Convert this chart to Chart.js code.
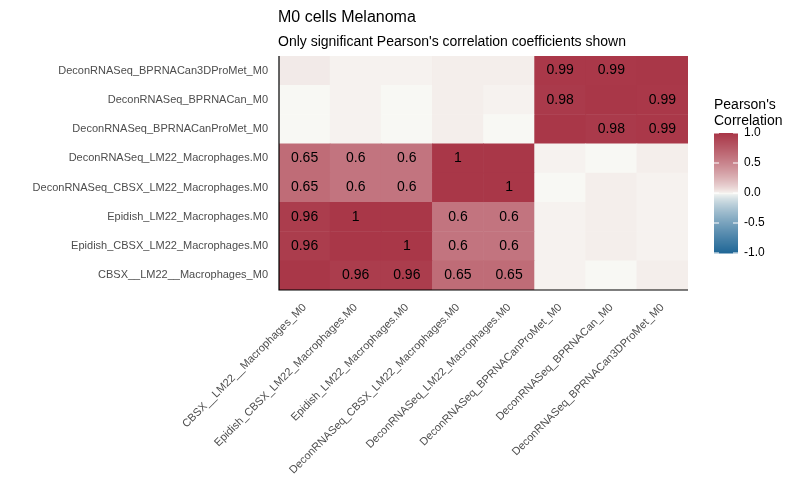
<!DOCTYPE html>
<html>
<head>
<meta charset="utf-8">
<script src="https://cdn.jsdelivr.net/npm/chart.js@4"></script>
<style>
  body { margin: 0; background: #fff; }
  #wrap { width: 800px; height: 500px; }
</style>
</head>
<body>
<div id="wrap"><canvas id="heat"></canvas></div>
<script>
// Categorías (mismo orden en x de izquierda a derecha y en y de abajo a arriba)
const categorias = [
  'CBSX__LM22__Macrophages_M0',
  'Epidish_CBSX_LM22_Macrophages.M0',
  'Epidish_LM22_Macrophages.M0',
  'DeconRNASeq_CBSX_LM22_Macrophages.M0',
  'DeconRNASeq_LM22_Macrophages.M0',
  'DeconRNASeq_BPRNACanProMet_M0',
  'DeconRNASeq_BPRNACan_M0',
  'DeconRNASeq_BPRNACan3DProMet_M0'
];

// Valores por fila (fila i = categoría y i, de abajo a arriba)
const valores = [
  [1.00, 0.96, 0.96, 0.65, 0.65, 0.01, 0.00, 0.02],
  [0.96, 1.00, 1.00, 0.60, 0.60, 0.01, 0.02, 0.01],
  [0.96, 1.00, 1.00, 0.60, 0.60, 0.01, 0.02, 0.01],
  [0.65, 0.60, 0.60, 1.00, 1.00, 0.00, 0.02, 0.01],
  [0.65, 0.60, 0.60, 1.00, 1.00, 0.01, 0.00, 0.02],
  [0.00, 0.01, 0.00, 0.02, 0.00, 1.00, 0.98, 0.99],
  [0.00, 0.01, 0.00, 0.02, 0.01, 0.98, 1.00, 0.99],
  [0.03, 0.01, 0.01, 0.02, 0.02, 0.99, 0.99, 1.00]
];

// Etiquetas mostradas (solo coeficientes significativos)
const etiquetas = [
  ['', '0.96', '0.96', '0.65', '0.65', '', '', ''],
  ['0.96', '', '1', '0.6', '0.6', '', '', ''],
  ['0.96', '1', '', '0.6', '0.6', '', '', ''],
  ['0.65', '0.6', '0.6', '', '1', '', '', ''],
  ['0.65', '0.6', '0.6', '1', '', '', '', ''],
  ['', '', '', '', '', '', '0.98', '0.99'],
  ['', '', '', '', '', '0.98', '', '0.99'],
  ['', '', '', '', '', '0.99', '0.99', '']
];

const ticksLeyenda = [1.0, 0.5, 0.0, -0.5, -1.0];

const ROJO = [169, 55, 72], BLANCO = [248, 248, 244], AZUL = [31, 102, 150];
function colorDe(v) {
  const t = Math.min(1, Math.abs(v));
  const fin = v >= 0 ? ROJO : AZUL;
  const c = BLANCO.map((b, i) => Math.round(b + (fin[i] - b) * Math.pow(t, 0.75)));
  return `rgb(${c[0]},${c[1]},${c[2]})`;
}

const datasets = valores.map((fila, r) => ({
  data: fila.map(() => [r, r + 1]),
  backgroundColor: fila.map(colorDe),
  borderWidth: 0,
  barPercentage: 1,
  categoryPercentage: 1,
  grouped: false
}));

const pluginExtras = {
  id: 'extras',
  afterDatasetsDraw(chart) {
    const ctx = chart.ctx;
    ctx.save();
    ctx.fillStyle = '#000';
    ctx.font = '14px "Liberation Sans", Arial';
    ctx.textAlign = 'center';
    ctx.textBaseline = 'middle';
    chart.data.datasets.forEach((ds, r) => {
      chart.getDatasetMeta(r).data.forEach((bar, c) => {
        const txt = etiquetas[r][c];
        if (txt) ctx.fillText(txt, bar.x, (bar.y + bar.base) / 2);
      });
    });
    // Ejes
    const a = chart.chartArea;
    ctx.strokeStyle = '#000';
    ctx.lineWidth = 1.2;
    ctx.beginPath();
    ctx.moveTo(a.left, a.top); ctx.lineTo(a.left, a.bottom); ctx.lineTo(a.right, a.bottom);
    ctx.stroke();
    // Títulos
    ctx.textAlign = 'left';
    ctx.textBaseline = 'alphabetic';
    ctx.font = '16px "Liberation Sans", Arial';
    ctx.fillText('M0 cells Melanoma', 278, 22);
    ctx.font = '14px "Liberation Sans", Arial';
    ctx.fillText("Only significant Pearson's correlation coefficients shown", 278, 46);
    // Leyenda
    ctx.font = '14px "Liberation Sans", Arial';
    ctx.fillText("Pearson's", 714, 109);
    ctx.fillText('Correlation', 714, 125);
    const x0 = 714, w = 24, y0 = 133, h = 120;
    for (let i = 0; i < h; i++) {
      ctx.fillStyle = colorDe(1 - 2 * i / h);
      ctx.fillRect(x0, y0 + i, w, 1.5);
    }
    ctx.font = '12px "Liberation Sans", Arial';
    ctx.textBaseline = 'middle';
    ticksLeyenda.forEach(t => {
      const y = y0 + (1 - t) / 2 * h;
      ctx.strokeStyle = '#fff';
      ctx.beginPath();
      ctx.moveTo(x0, y); ctx.lineTo(x0 + 5, y);
      ctx.moveTo(x0 + w - 5, y); ctx.lineTo(x0 + w, y);
      ctx.stroke();
      ctx.fillStyle = '#000';
      ctx.fillText(t.toFixed(1), x0 + w + 6, y);
    });
    ctx.restore();
  }
};

new Chart(document.getElementById('heat'), {
  type: 'bar',
  data: { labels: categorias, datasets },
  options: {
    responsive: true,
    maintainAspectRatio: false,
    animation: false,
    layout: { padding: { top: 56, right: 112, left: 0, bottom: 0 } },
    plugins: { legend: { display: false }, tooltip: { enabled: false } },
    scales: {
      x: {
        grid: { display: false, drawTicks: true },
        border: { display: false },
        ticks: { color: '#4d4d4d', font: { size: 11, family: '"Liberation Sans", Arial' },
                 minRotation: 45, maxRotation: 45, autoSkip: false },
        afterFit(s) { s.height = 210; }
      },
      y: {
        min: 0, max: 8,
        grid: { display: false },
        border: { display: false },
        afterBuildTicks(s) { s.ticks = categorias.map((_, i) => ({ value: i + 0.5 })); },
        ticks: { color: '#4d4d4d', font: { size: 11, family: '"Liberation Sans", Arial' },
                 autoSkip: false,
                 callback: (v) => categorias[Math.floor(v)] },
        afterFit(s) { s.width = 279; }
      }
    }
  },
  plugins: [pluginExtras]
});
</script>
</body>
</html>
